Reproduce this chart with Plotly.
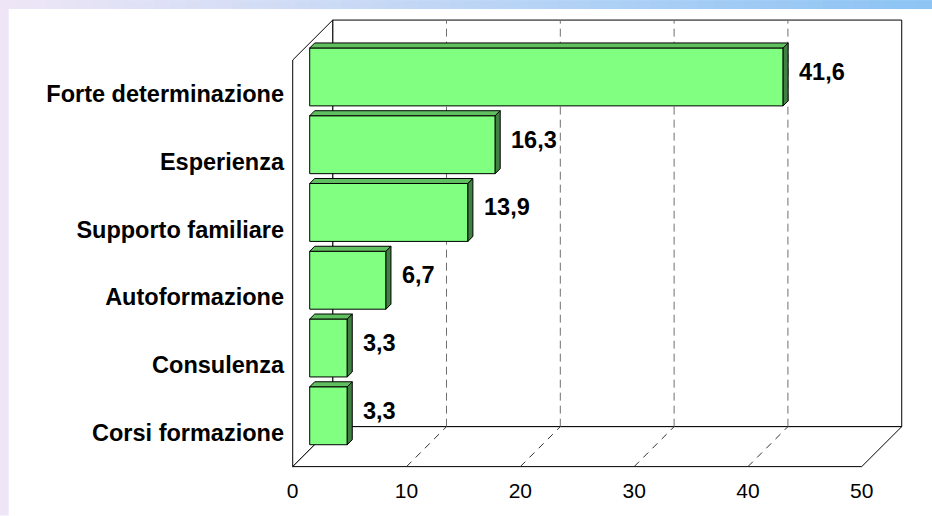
import plotly.graph_objects as go

# ---- data -------------------------------------------------------------
categories = [
    "Corsi formazione",
    "Consulenza",
    "Autoformazione",
    "Supporto familiare",
    "Esperienza",
    "Forte determinazione",
]
values = [3.3, 3.3, 6.7, 13.9, 16.3, 41.6]
x_ticks = [0, 10, 20, 30, 40, 50]

# ---- geometry of the oblique 3-D box ---------------------------------
FIG_W, FIG_H = 932, 516
X_SCALE = 11.38          # px per value unit
Y_SCALE = 67.83          # px per category band
ORIGIN_X, ORIGIN_Y = 293, 467   # front-floor corner (value 0, bottom)
DEPTH_PX = 40
DX = DEPTH_PX / X_SCALE  # depth offset in x units
DY = DEPTH_PX / Y_SCALE  # depth offset in y units
X_MAX = x_ticks[-1]
N = len(categories)

X_LO, X_HI = -0.15, X_MAX + DX + 0.2
Y_LO, Y_HI = -0.05, N + DY + 0.06

m_l = ORIGIN_X + X_LO * X_SCALE
plot_w = (X_HI - X_LO) * X_SCALE
m_r = FIG_W - m_l - plot_w
m_b = FIG_H - (ORIGIN_Y - Y_LO * Y_SCALE)
plot_h = (Y_HI - Y_LO) * Y_SCALE
m_t = FIG_H - m_b - plot_h

# bars sit part-way into the depth of the box
D_FRONT, D_BACK = 0.425, 0.55
BAR_H = 0.855

FRONT = "#80FF80"
TOP = "#60C060"
SIDE = "#408040"
EDGE = "black"
FONT = "Liberation Sans, Arial, sans-serif"

fig = go.Figure()

# ---- walls, floor and grid --------------------------------------------
shapes = []


def poly(pts, fill="white", color=EDGE, width=1, dash="solid"):
    path = "M " + " L ".join(f"{x},{y}" for x, y in pts) + " Z"
    return dict(type="path", path=path, xref="x", yref="y", layer="below",
                fillcolor=fill, line=dict(color=color, width=width, dash=dash))


def seg(x0, y0, x1, y1, color=EDGE, width=1, dash="solid"):
    return dict(type="line", x0=x0, y0=y0, x1=x1, y1=y1, xref="x", yref="y",
                layer="below", line=dict(color=color, width=width, dash=dash))


# back wall, left wall, floor
shapes.append(poly([(DX, DY), (X_MAX + DX, DY), (X_MAX + DX, N + DY), (DX, N + DY)]))
shapes.append(poly([(0, 0), (DX, DY), (DX, N + DY), (0, N)]))
shapes.append(poly([(0, 0), (X_MAX, 0), (X_MAX + DX, DY), (DX, DY)]))

for v in x_ticks[1:-1]:
    shapes.append(seg(v + DX, DY, v + DX, N + DY, color="#707070", width=1, dash="8px,5px"))
    shapes.append(seg(v, 0, v + DX, DY, color="#303030", width=1, dash="7px,6px"))

# ---- page background bands (paper coordinates) ------------------------


def px_to_paper_x(px):
    return (px - m_l) / plot_w


def px_to_paper_y(py):
    return 1 - (py - m_t) / plot_h


BAND = 9
c0 = (238, 230, 246)
c1 = (140, 196, 244)
steps = 60
for k in range(steps):
    t = k / (steps - 1)
    col = tuple(round(a + (b - a) * t) for a, b in zip(c0, c1))
    shapes.append(dict(
        type="rect", xref="paper", yref="paper", layer="below",
        x0=px_to_paper_x(FIG_W * k / steps), x1=px_to_paper_x(FIG_W * (k + 1) / steps + 1),
        y0=px_to_paper_y(0), y1=px_to_paper_y(BAND),
        fillcolor="rgb(%d,%d,%d)" % col, line=dict(width=0)))
shapes.append(dict(
    type="rect", xref="paper", yref="paper", layer="below",
    x0=px_to_paper_x(0), x1=px_to_paper_x(BAND),
    y0=px_to_paper_y(BAND), y1=px_to_paper_y(FIG_H),
    fillcolor="rgb(238,230,246)", line=dict(width=0)))

# ---- bars -------------------------------------------------------------
base = D_FRONT * DX
ddx = (D_BACK - D_FRONT) * DX
ddy = (D_BACK - D_FRONT) * DY
centers = [i + 0.5 for i in range(N)]
bar_y = [c + D_FRONT * DY for c in centers]

for v, yc in zip(values, bar_y):
    yt, yb = yc + BAR_H / 2, yc - BAR_H / 2
    # top face
    fig.add_trace(go.Scatter(
        x=[base, base + v, base + v + ddx, base + ddx, base],
        y=[yt, yt, yt + ddy, yt + ddy, yt],
        mode="lines", fill="toself", fillcolor=TOP,
        line=dict(color=EDGE, width=1), hoverinfo="skip"))
    # side face
    fig.add_trace(go.Scatter(
        x=[base + v, base + v, base + v + ddx, base + v + ddx, base + v],
        y=[yb, yt, yt + ddy, yb + ddy, yb],
        mode="lines", fill="toself", fillcolor=SIDE,
        line=dict(color=EDGE, width=1), hoverinfo="skip"))

fig.add_trace(go.Bar(
    x=values, y=bar_y, base=base, orientation="h", width=BAR_H,
    marker=dict(color=FRONT, line=dict(color=EDGE, width=1)),
    hoverinfo="x"))

annotations = []
for v, c in zip(values, centers):
    annotations.append(dict(
        x=base + v + ddx, y=c + D_BACK * DY, xref="x", yref="y",
        text=f"{v:.1f}".replace(".", ","), showarrow=False,
        xanchor="left", yanchor="middle", xshift=9,
        font=dict(family=FONT, size=23.5, color="black", weight=700)))

fig.update_layout(
    width=FIG_W, height=FIG_H,
    margin=dict(l=m_l, r=m_r, t=m_t, b=m_b, pad=0),
    paper_bgcolor="white", plot_bgcolor="rgba(0,0,0,0)",
    showlegend=False, barmode="overlay",
    shapes=shapes, annotations=annotations,
    xaxis=dict(range=[X_LO, X_HI], tickvals=x_ticks, ticktext=[str(t) for t in x_ticks],
               showgrid=False, zeroline=False, showline=False, ticks="",
               tickfont=dict(family=FONT, size=21, color="black"),
               ticklabelstandoff=6, automargin=False, fixedrange=True),
    yaxis=dict(range=[Y_LO, Y_HI], tickvals=centers, ticktext=categories,
               showgrid=False, zeroline=False, showline=False, ticks="",
               tickfont=dict(family=FONT, size=23.5, color="black", weight=700),
               ticklabelstandoff=6, automargin=False, fixedrange=True),
)

fig.write_html("out.html")
